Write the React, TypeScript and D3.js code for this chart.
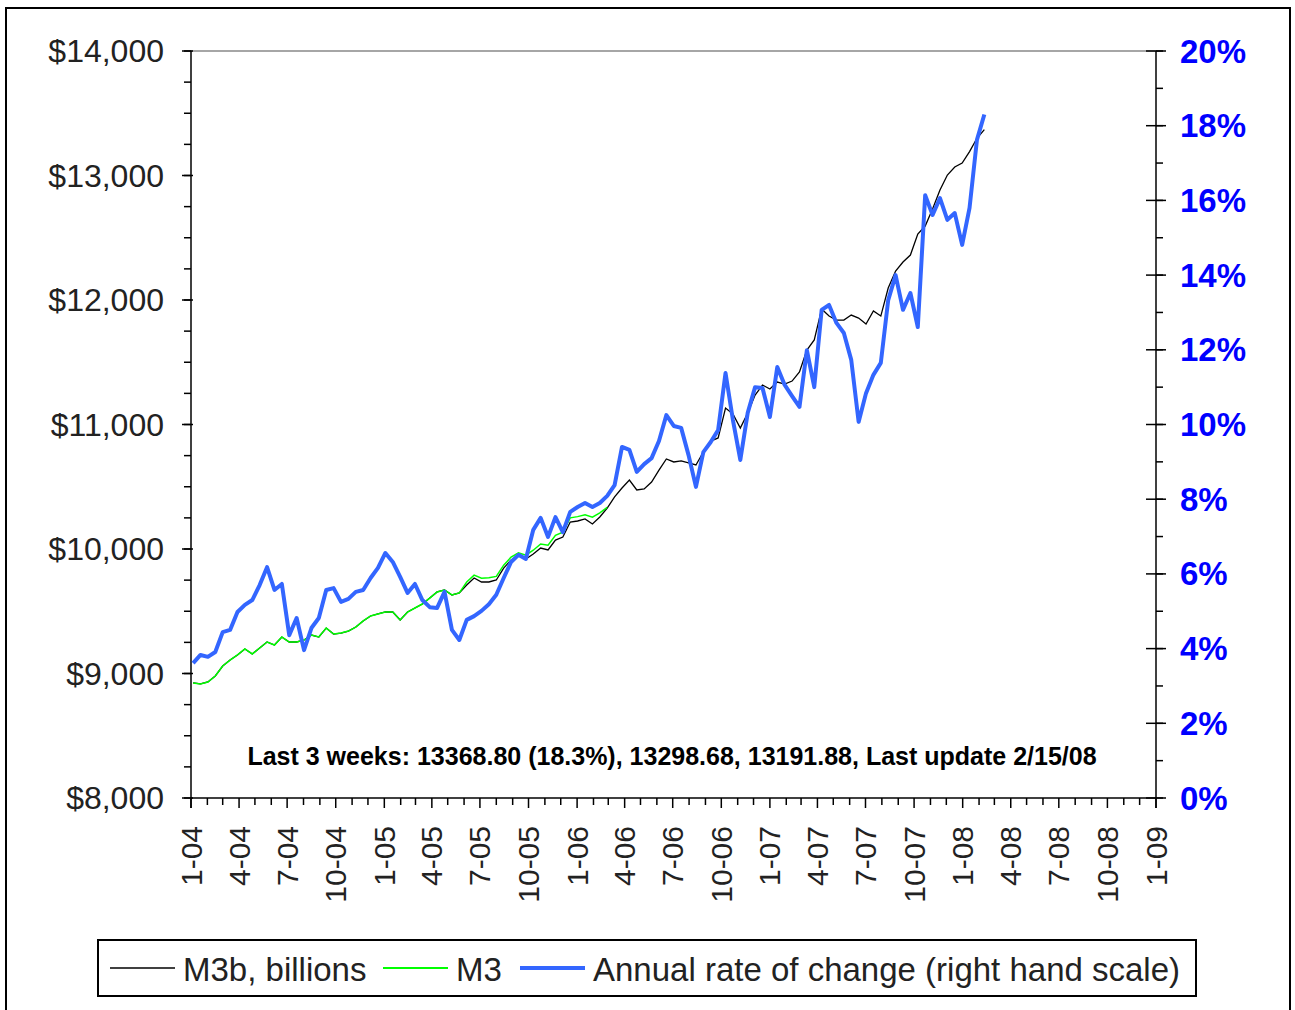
import * as d3 from 'd3';

// biweekly observations, first one the week of Jan 5 2004
const firstWeek = new Date(2004, 0, 5);

// M3b, billions of dollars (left scale)
const m3b = [
  8924, 8916, 8932, 8980, 9060, 9108, 9149, 9197, 9157, 9205,
  9253, 9229, 9293, 9253, 9253, 9269, 9309, 9293, 9365, 9317,
  9325, 9341, 9373, 9422, 9462, 9478, 9494, 9494, 9430, 9494,
  9526, 9558, 9606, 9655, 9671, 9631, 9647, 9711, 9767, 9735,
  9735, 9751, 9847, 9912, 9944, 9920, 9960, 10008, 9992, 10072,
  10096, 10217, 10225, 10241, 10201, 10257, 10329, 10418, 10490, 10554,
  10474, 10482, 10538, 10634, 10723, 10699, 10707, 10691, 10675, 10779,
  10867, 10892, 11132, 11084, 10972, 11092, 11237, 11317, 11285, 11341,
  11325, 11349, 11422, 11598, 11679, 11928, 11871, 11839, 11839, 11879,
  11855, 11807, 11912, 11871, 12096, 12233, 12305, 12361, 12530, 12594,
  12731, 12883, 13004, 13068, 13100, 13192, 13299, 13369,
];

// official M3, discontinued in March 2006
const m3 = [
  8924, 8916, 8932, 8980, 9060, 9108, 9149, 9197, 9157, 9205,
  9253, 9229, 9293, 9253, 9253, 9269, 9309, 9293, 9365, 9317,
  9325, 9341, 9373, 9422, 9462, 9478, 9494, 9494, 9430, 9494,
  9526, 9558, 9606, 9655, 9671, 9631, 9647, 9735, 9790, 9765,
  9770, 9780, 9870, 9935, 9970, 9950, 9990, 10040, 10030, 10110,
  10135, 10250, 10260, 10275, 10255, 10290, 10335,
];

// annual rate of change of M3b, percent (right scale)
const rate = [
  3.61, 3.83, 3.78, 3.91, 4.44, 4.50, 4.98, 5.17, 5.30, 5.70,
  6.18, 5.57, 5.73, 4.36, 4.82, 3.96, 4.55, 4.82, 5.57, 5.62,
  5.25, 5.33, 5.52, 5.57, 5.89, 6.16, 6.56, 6.32, 5.92, 5.49,
  5.73, 5.30, 5.11, 5.09, 5.52, 4.50, 4.23, 4.77, 4.87, 5.01,
  5.19, 5.44, 5.89, 6.32, 6.51, 6.40, 7.18, 7.50, 6.99, 7.52,
  7.12, 7.66, 7.79, 7.90, 7.79, 7.90, 8.09, 8.38, 9.40, 9.32,
  8.73, 8.94, 9.10, 9.56, 10.25, 9.96, 9.91, 9.18, 8.33, 9.26,
  9.53, 9.85, 11.38, 10.12, 9.05, 10.31, 11.00, 10.98, 10.20, 11.54,
  11.06, 10.76, 10.47, 11.99, 11.00, 13.07, 13.20, 12.72, 12.45, 11.73,
  10.07, 10.84, 11.33, 11.65, 13.33, 14.00, 13.07, 13.52, 12.61, 16.14,
  15.61, 16.06, 15.48, 15.66, 14.81, 15.80, 17.62, 18.30,
];

const leftTicks = [8000, 9000, 10000, 11000, 12000, 13000, 14000];
const rightTicks = [0, 2, 4, 6, 8, 10, 12, 14, 16, 18, 20];
const note = 'Last 3 weeks: 13368.80 (18.3%), 13298.68, 13191.88, Last update 2/15/08';
const legendItems = [
  { label: 'M3b, billions', color: '#000000', width: 1.5 },
  { label: 'M3', color: '#00ff00', width: 2 },
  { label: 'Annual rate of change (right hand scale)', color: '#3366ff', width: 4 },
];

const font = '"Liberation Sans", Arial, sans-serif';

export default function App() {
  const W = 1295, H = 1010;
  const left = 191, right = 1156, top = 51, bottom = 798;

  const x = d3.scaleTime()
    .domain([new Date(2004, 0, 1), new Date(2009, 0, 1)])
    .range([left, right]);
  const yL = d3.scaleLinear().domain([8000, 14000]).range([bottom, top]);
  const yR = d3.scaleLinear().domain([0, 20]).range([bottom, top]);

  const dateOf = (i: number) => d3.timeDay.offset(firstWeek, 14 * i);
  const leftLine = d3.line<number>().x((_, i) => x(dateOf(i))).y(d => yL(d));
  const rightLine = d3.line<number>().x((_, i) => x(dateOf(i))).y(d => yR(d));

  const months = d3.timeMonth.range(new Date(2004, 0, 1), new Date(2009, 0, 2));
  const leftMinor = d3.range(8000, 14001, 250);
  const rightMinor = d3.range(0, 21, 1);

  const legendX = [110, 383, 520];

  return (
    <svg width={W} height={H} style={{ position: 'absolute', left: 0, top: 0, background: '#fff' }}
      fontFamily={font}>
      <rect x={6} y={8} width={1284} height={1010} fill="#fff" stroke="#000" strokeWidth={2} />

      {/* plot frame */}
      <line x1={left} x2={right} y1={top} y2={top} stroke="#888" strokeWidth={1.5} />
      <line x1={left} x2={right} y1={bottom} y2={bottom} stroke="#000" strokeWidth={1.5} />
      <line x1={left} x2={left} y1={top} y2={bottom + 10} stroke="#000" strokeWidth={1.5} />
      <line x1={right} x2={right} y1={top} y2={bottom + 10} stroke="#000" strokeWidth={1.5} />

      {/* left axis */}
      {leftMinor.map(v => (
        <line key={'lm' + v} x1={left - 7} x2={left} y1={yL(v)} y2={yL(v)} stroke="#000" strokeWidth={1.5} />
      ))}
      {leftTicks.map(v => (
        <g key={'l' + v}>
          <line x1={left - 9} x2={left + 2} y1={yL(v)} y2={yL(v)} stroke="#000" strokeWidth={1.5} />
          <text x={164} y={yL(v)} textAnchor="end" dominantBaseline="central" fontSize={32} fill="#222">
            {'$' + d3.format(',')(v)}
          </text>
        </g>
      ))}

      {/* right axis */}
      {rightMinor.map(v => (
        <line key={'rm' + v} x1={right} x2={right + 7} y1={yR(v)} y2={yR(v)} stroke="#000" strokeWidth={1.5} />
      ))}
      {rightTicks.map(v => (
        <g key={'r' + v}>
          <line x1={right - 10} x2={right + 10} y1={yR(v)} y2={yR(v)} stroke="#000" strokeWidth={1.5} />
          <text x={1180} y={yR(v)} dominantBaseline="central" fontSize={33} fontWeight="bold" fill="#0000ff">
            {v + '%'}
          </text>
        </g>
      ))}

      {/* x axis */}
      {months.map(m => {
        const major = m.getMonth() % 3 === 0;
        const px = x(m);
        return (
          <g key={m.getTime()}>
            <line x1={px} x2={px} y1={bottom} y2={bottom + (major ? 10 : 7)} stroke="#000" strokeWidth={1.5} />
            {major && (
              <text transform={`translate(${px},826) rotate(-90)`} textAnchor="end" dominantBaseline="central"
                fontSize={30} fill="#222">
                {`${m.getMonth() + 1}-${d3.timeFormat('%y')(m)}`}
              </text>
            )}
          </g>
        );
      })}

      {/* series */}
      <path d={leftLine(m3b) ?? ''} fill="none" stroke="#000" strokeWidth={1.3} />
      <path d={leftLine(m3) ?? ''} fill="none" stroke="#00ff00" strokeWidth={1.5} />
      <path d={rightLine(rate) ?? ''} fill="none" stroke="#3366ff" strokeWidth={4} strokeLinejoin="round" />

      <text x={672} y={765} textAnchor="middle" fontSize={25} fontWeight="bold" fill="#000">{note}</text>

      {/* legend */}
      <rect x={98} y={940} width={1098} height={56} fill="#fff" stroke="#000" strokeWidth={2} />
      {legendItems.map((d, i) => (
        <g key={d.label}>
          <line x1={legendX[i]} x2={legendX[i] + 65} y1={968} y2={968} stroke={d.color} strokeWidth={d.width} />
          <text x={legendX[i] + 73} y={969} dominantBaseline="central" fontSize={33} fill="#222">{d.label}</text>
        </g>
      ))}
    </svg>
  );
}
